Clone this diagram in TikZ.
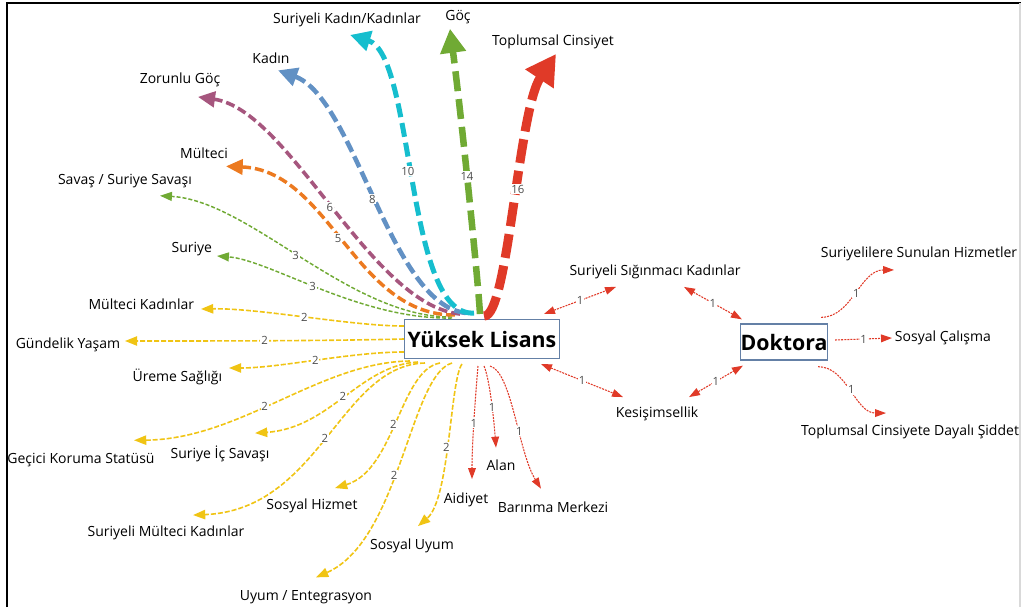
\documentclass[tikz,border=0pt]{standalone}
\usepackage{fontspec}
\setmainfont{Open Sans}
\usetikzlibrary{arrows.meta}

\definecolor{redA}{RGB}{224,58,40}
\definecolor{greenA}{RGB}{112,170,52}
\definecolor{cyanA}{RGB}{22,190,206}
\definecolor{blueA}{RGB}{98,145,196}
\definecolor{plumA}{RGB}{166,86,126}
\definecolor{orangeA}{RGB}{236,122,32}
\definecolor{yellowA}{RGB}{240,196,20}
\definecolor{boxA}{RGB}{100,128,166}

\tikzset{
    lab/.style={font=\fontsize{10.5}{12}\selectfont, inner sep=2pt},
    num/.style={font=\fontsize{8.5}{9}\selectfont, text=black!70, fill=white, inner sep=0.6pt},
    hub/.style={draw=boxA, line width=1pt, fill=white, inner sep=0pt,
        font=\fontsize{16}{18}\selectfont\bfseries},
    % line weight follows the number of shared keywords
    w16/.style={redA, line width=6.75pt, dash pattern=on 18pt off 6pt},
    w14/.style={greenA, line width=4.9pt, dash pattern=on 15pt off 6pt},
    w10/.style={cyanA, line width=3.75pt, dash pattern=on 10.5pt off 4.5pt},
    w8/.style={blueA, line width=3.4pt, dash pattern=on 9pt off 3.75pt},
    w6/.style={plumA, line width=2.7pt, dash pattern=on 6.75pt off 3pt},
    w5/.style={orangeA, line width=2.6pt, dash pattern=on 6.75pt off 3pt},
    w3/.style={greenA, line width=1.1pt, dash pattern=on 3pt off 1.5pt},
    w2/.style={yellowA, line width=1.2pt, dash pattern=on 3.75pt off 1.5pt},
    w1/.style={redA, line width=0.8pt, dash pattern=on 1.5pt off 0.8pt},
}

\begin{document}
\begin{tikzpicture}[x=0.75pt, y=-0.75pt, >={Triangle[length=6.3pt 2.4, width=3.3pt 3.1]}]
    \useasboundingbox (0,0) rectangle (1021,607);
    % frame
    \draw[line width=1.6pt] (7,607) -- (7,3) -- (1021,3);
    \draw[black!15, line width=1pt] (1020,3) -- (1020,607);

    % the two levels
    \node[hub, minimum width=116pt, minimum height=29pt] (yl) at (482,339) {Yüksek Lisans};
    \node[hub, minimum width=63pt, minimum height=27pt] (dok) at (784,342) {Doktora};

    % keywords
    \node[lab] (skk) at (347,20) {Suriyeli Kadın/Kadınlar};
    \node[lab] (goc) at (458,17) {Göç};
    \node[lab] (tc) at (553,42) {Toplumsal Cinsiyet};
    \node[lab] (kadin) at (271,58) {Kadın};
    \node[lab] (zg) at (180,80) {Zorunlu Göç};
    \node[lab] (mul) at (204,153) {Mülteci};
    \node[lab] (sav) at (125,181) {Savaş / Suriye Savaşı};
    \node[lab, anchor=east] (sur) at (215,249) {Suriye};
    \node[lab, anchor=east] (mk) at (197,304) {Mülteci Kadınlar};
    \node[lab, anchor=east] (gy) at (123,345) {Gündelik Yaşam};
    \node[lab, anchor=east] (us) at (225,377) {Üreme Sağlığı};
    \node[lab] (gks) at (81,460) {Geçici Koruma Statüsü};
    \node[lab] (sis) at (220,454) {Suriye İç Savaşı};
    \node[lab] (smk) at (166,533) {Suriyeli Mülteci Kadınlar};
    \node[lab] (sh) at (312,506) {Sosyal Hizmet};
    \node[lab] (su) at (412,546) {Sosyal Uyum};
    \node[lab] (ue) at (306,597) {Uyum / Entegrasyon};
    \node[lab] (aid) at (466,500) {Aidiyet};
    \node[lab] (alan) at (501,465) {Alan};
    \node[lab] (bm) at (553,507) {Barınma Merkezi};
    \node[lab] (ssk) at (655,272) {Suriyeli Sığınmacı Kadınlar};
    \node[lab] (kes) at (657,414) {Kesişimsellik};
    \node[lab] (ssh) at (919,254) {Suriyelilere Sunulan Hizmetler};
    \node[lab, anchor=west] (sc) at (892,338) {Sosyal Çalışma};
    \node[lab] (tcd) at (910,432) {Toplumsal Cinsiyete Dayalı Şiddet};

    % yellow links (2)
    \draw[w2,->] ([shift={(0,-13)}]yl.west) .. controls +(-54,0) and +(59,-1) .. ([shift={(4,5)}]mk.east) node[num,pos=0.5] {2};
    \draw[w2,->] (yl.west) .. controls +(-80,2) and +(80,0) .. ([shift={(2,-4)}]gy.east) node[num,pos=0.5] {2};
    \draw[w2,->] ([shift={(0,13)}]yl.west) .. controls +(-54,0) and +(51,0) .. ([shift={(4,-9)}]us.east) node[num,pos=0.5] {2};
    \draw[w2,->] ([shift={(6,2)}]yl.south west) .. controls +(-90,1) and +(106,-1) .. ([shift={(53,-10)}]gks.north) node[num,pos=0.55] {2};
    \draw[w2,->] ([shift={(14,3)}]yl.south west) .. controls +(-58,3) and +(75,-5) .. ([shift={(35,-10)}]sis.north) node[num,pos=0.5] {2};
    \draw[w2,->] ([shift={(21,4)}]yl.south west) .. controls +(-85,2) and +(127,-5) .. ([shift={(27,-8)}]smk.north) node[num,pos=0.5] {2};
    \draw[w2,->] ([shift={(36,4)}]yl.south west) .. controls +(-40,7) and +(60,-18) .. ([shift={(23,-8)}]sh.north) node[num,pos=0.52] {2};
    \draw[w2,->] ([shift={(-30,4)}]yl.south) .. controls +(-42,12) and +(84,-37) .. ([shift={(10,-10)}]ue.north) node[num,pos=0.55] {2};
    \draw[w2,->] ([shift={(-20,5)}]yl.south) .. controls +(-12,16) and +(32,-27) .. ([shift={(6,-10)}]su.north) node[num,pos=0.53] {2};

    % red links (1)
    \draw[w1,->] ([shift={(-4,7)}]yl.south) .. controls +(-2,24) and +(0,-39) .. ([shift={(6,-11)}]aid.north) node[num,pos=0.55] {1};
    \draw[w1,->] ([shift={(2,7)}]yl.south) .. controls +(6,14) and +(-2,-26) .. ([shift={(-5,-9)}]alan.north) node[num,pos=0.55] {1};
    \draw[w1,->] ([shift={(8,7)}]yl.south) .. controls +(22,6) and +(-23,-37) .. ([shift={(-12,-10)}]bm.north) node[num,pos=0.6] {1};

    % green links (3)
    \draw[w3,->] ([shift={(-30,-2)}]yl.north) .. controls +(-102,1) and +(90,5) .. ([shift={(35,5)}]sav.south) node[num,pos=0.52] {3};
    \draw[w3,->] ([shift={(-30,-1)}]yl.north) .. controls +(-92,2) and +(53,4) .. ([shift={(2,7)}]sur.east) node[num,pos=0.53] {3};

    % heavy links
    \draw[w5,->] ([shift={(-27,-4)}]yl.north) .. controls +(-100,1) and +(104,4) .. ([shift={(22,5)}]mul.south) node[num,pos=0.52] {5};
    \draw[w6,->] ([shift={(-22,-5)}]yl.north) .. controls +(-90,-9) and +(92,13) .. ([shift={(18,7)}]zg.south) node[num,pos=0.5] {6};
    \draw[w8,->] ([shift={(-16,-6)}]yl.north) .. controls +(-76,-8) and +(77,28) .. ([shift={(7,4)}]kadin.south) node[num,pos=0.5] {8};
    \draw[w10,->] ([shift={(-8,-6)}]yl.north) .. controls +(-69,5) and +(65,20) .. ([shift={(3,5)}]skk.south) node[num,pos=0.53] {10};
    \draw[w14,->] ([shift={(-2,-5)}]yl.north) .. controls +(-2,-34) and +(12,92) .. ([shift={(-8,2)}]goc.south) node[num,pos=0.55] {14};
    \draw[w16,->] ([shift={(2,-3)}]yl.north) .. controls +(24,2) and +(-38,57) .. ([shift={(3,2)}]tc.south) node[num,pos=0.55] {16};

    % shared with Doktora
    \draw[w1,<->] ([shift={(-16,-5)}]yl.north east) -- ([shift={(-39,5)}]ssk.south) node[num,midway] {1};
    \draw[w1,<->] ([shift={(-19,5)}]yl.south east) -- ([shift={(-34,-7)}]kes.north) node[num,midway] {1};
    \draw[w1,<->] ([shift={(29,5)}]ssk.south) -- ([shift={(2,-4)}]dok.north west) node[num,midway] {1};
    \draw[w1,<->] ([shift={(32,-7)}]kes.north) -- ([shift={(3,5)}]dok.south west) node[num,midway] {1};
    \draw[w1,->] ([shift={(-7,-6)}]dok.north east) .. controls +(31,0) and +(-34,0) .. ([shift={(-25,6)}]ssh.south) node[num,pos=0.5] {1};
    \draw[w1,->] ([shift={(7,-2)}]dok.east) -- (sc.west) node[num,midway] {1};
    \draw[w1,->] ([shift={(-10,6)}]dok.south east) .. controls +(29,0) and +(-31,0) .. ([shift={(-24,-9)}]tcd.north) node[num,pos=0.5] {1};
\end{tikzpicture}
\end{document}
